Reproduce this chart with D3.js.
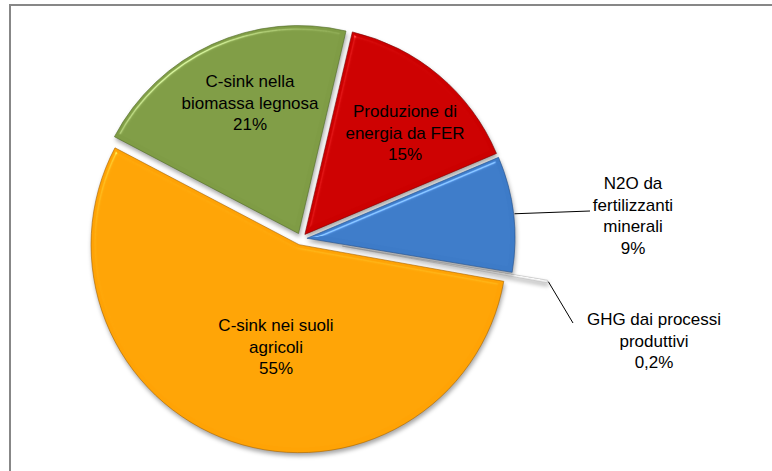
<!DOCTYPE html>
<html>
<head>
<meta charset="utf-8">
<script src="https://cdn.jsdelivr.net/npm/d3@7"></script>
<style>
  html, body { margin: 0; padding: 0; background: #fff; }
  svg { display: block; }
</style>
</head>
<body>
<svg id="chart" width="772" height="471"></svg>
<script>
// ---- data ----
const categories = [
  "Produzione di energia da FER",
  "N2O da fertilizzanti minerali",
  "GHG dai processi produttivi",
  "C-sink nei suoli agricoli",
  "C-sink nella biomassa legnosa"
];
const values = [15, 9, 0.2, 55, 21];
const labelLines = [
  ["Produzione di", "energia da FER"],
  ["N2O da", "fertilizzanti", "minerali"],
  ["GHG dai processi", "produttivi"],
  ["C-sink nei suoli", "agricoli"],
  ["C-sink nella", "biomassa legnosa"]
];

// ---- styles / layout ----
const palette = ["#CC0000", "#3D7BC8", "#F0F0F0", "#FFA305", "#7F9C45"];
const edgeColors = ["#7a0000", "#24508a", "#bbbbbb", "#a86400", "#506a26"];
const explode = [6, 6, 42, 6, 6];
const cx = 301, cy = 239, R = 208;
const startDeg = 13.2;
// label anchors: center x, first baseline y
const labelPos = [[405, 117], [633, 189], [654, 325], [276, 331], [250, 87]];
const lineH = 21.7;
const leaderEndPts = {1: [590, 211], 2: [573, 323]};

const fmtPct = v => (Number.isInteger(v) ? String(v) : String(v).replace(".", ",")) + "%";

const svg = d3.select("#chart");
const defs = svg.append("defs");
const f = defs.append("filter").attr("id", "bevel")
  .attr("x", "-20%").attr("y", "-20%").attr("width", "140%").attr("height", "140%")
  .attr("color-interpolation-filters", "sRGB");
f.append("feGaussianBlur").attr("in", "SourceAlpha").attr("stdDeviation", 2.2).attr("result", "blur");
const spec = f.append("feSpecularLighting").attr("in", "blur").attr("surfaceScale", 4)
  .attr("specularConstant", 0.9).attr("specularExponent", 40).attr("lighting-color", "#ffffff").attr("result", "spec");
spec.append("feDistantLight").attr("azimuth", 235).attr("elevation", 42);
f.append("feComposite").attr("in", "spec").attr("in2", "SourceAlpha").attr("operator", "in").attr("result", "specIn");
f.append("feComposite").attr("in", "SourceGraphic").attr("in2", "specIn").attr("operator", "arithmetic")
  .attr("k1", 0).attr("k2", 1).attr("k3", 0.4).attr("k4", 0).attr("result", "lit");
f.append("feGaussianBlur").attr("in", "SourceAlpha").attr("stdDeviation", 2.2).attr("result", "sb");
f.append("feOffset").attr("in", "sb").attr("dx", 1).attr("dy", 3).attr("result", "so");
f.append("feFlood").attr("flood-color", "#000").attr("flood-opacity", 0.35).attr("result", "fl");
f.append("feComposite").attr("in", "fl").attr("in2", "so").attr("operator", "in").attr("result", "shadow");
const mg = f.append("feMerge");
mg.append("feMergeNode").attr("in", "shadow");
mg.append("feMergeNode").attr("in", "lit");

// chart area border (extends beyond the viewport on right/bottom)
svg.append("rect").attr("x", 10).attr("y", 5).attr("width", 820).attr("height", 520)
  .attr("fill", "none").attr("stroke", "#878787").attr("stroke-width", 2);

const rad = d => d * Math.PI / 180;
const pie = d3.pie().sort(null).startAngle(rad(startDeg)).endAngle(rad(startDeg + 360)).value(d => d);
const arcs = pie(values);
const arc = d3.arc().innerRadius(0).outerRadius(R);

const g = svg.append("g").attr("transform", `translate(${cx},${cy})`);

function offset(a, i) {
  const m = (a.startAngle + a.endAngle) / 2;
  return [Math.sin(m) * explode[i], -Math.cos(m) * explode[i]];
}

// draw order: GHG sliver first, then others
const order = [2, 3, 4, 0, 1];
order.forEach(i => {
  const a = arcs[i];
  const [ox, oy] = offset(a, i);
  g.append("path")
    .attr("d", arc(a))
    .attr("transform", `translate(${ox},${oy})`)
    .attr("fill", palette[i])
    .attr("stroke", edgeColors[i])
    .attr("stroke-opacity", 0.6)
    .attr("stroke-width", 1)
    .attr("stroke-linejoin", "round")
    .attr("filter", "url(#bevel)");
});

// leader lines
Object.keys(leaderEndPts).forEach(k => {
  const i = +k;
  const a = arcs[i];
  const [ox, oy] = offset(a, i);
  const m = (a.startAngle + a.endAngle) / 2;
  const x0 = cx + ox + Math.sin(m) * (R + 1);
  const y0 = cy + oy - Math.cos(m) * (R + 1);
  const [x1, y1] = leaderEndPts[i];
  svg.append("line").attr("x1", x0).attr("y1", y0).attr("x2", x1).attr("y2", y1)
    .attr("stroke", "#000").attr("stroke-width", 1);
});

// labels
categories.forEach((c, i) => {
  const lines = labelLines[i].concat([fmtPct(values[i])]);
  const [lx, ly] = labelPos[i];
  const t = svg.append("text")
    .attr("text-anchor", "middle")
    .attr("font-family", "'Liberation Sans', Arial, sans-serif")
    .attr("font-size", 17)
    .attr("fill", "#000");
  lines.forEach((ln, j) => {
    t.append("tspan").attr("x", lx).attr("y", ly + j * lineH).text(ln);
  });
});
</script>
</body>
</html>
